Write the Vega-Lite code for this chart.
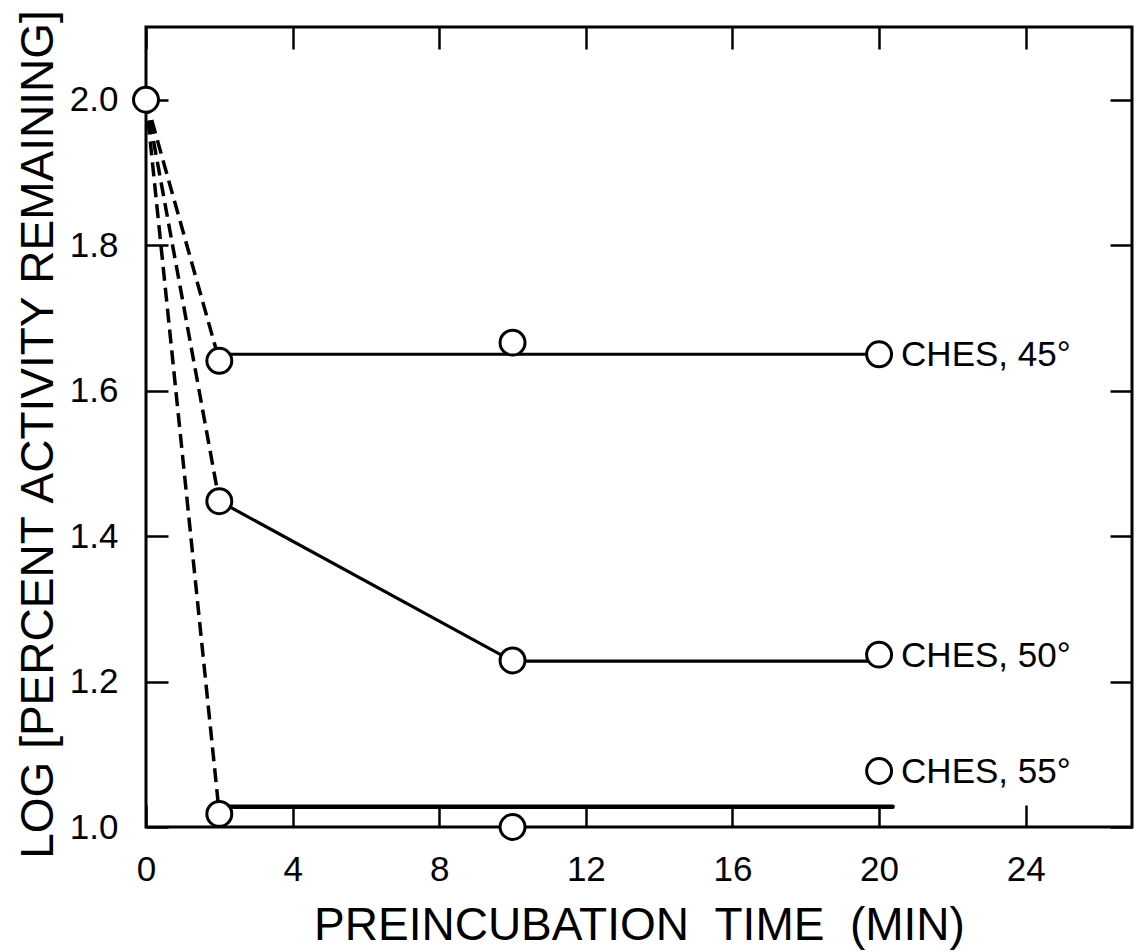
{
  "$schema": "https://vega.github.io/schema/vega-lite/v6.json",
  "width": 986,
  "height": 800,
  "autosize": {"type": "none"},
  "padding": {"left": 146, "top": 27, "right": 6, "bottom": 125},
  "background": "white",
  "config": {
    "view": {"stroke": "black", "strokeWidth": 3},
    "font": "Liberation Sans",
    "axis": {
      "domain": false,
      "grid": false,
      "tickColor": "black",
      "tickWidth": 2.5,
      "tickSize": -22,
      "labelColor": "black",
      "labelFont": "Liberation Sans",
      "labelFontSize": 35,
      "labelFlush": false,
      "labelOverlap": false,
      "titleColor": "black",
      "titleFont": "Liberation Sans",
      "titleFontWeight": "normal"
    }
  },
  "datasets": {
    "dashed": [
      {"series": "45", "t": 0, "v": 2.0},
      {"series": "45", "t": 2, "v": 1.641},
      {"series": "50", "t": 0, "v": 2.0},
      {"series": "50", "t": 2, "v": 1.448},
      {"series": "55", "t": 0, "v": 2.0},
      {"series": "55", "t": 2, "v": 1.018}
    ],
    "solid": [
      {"series": "45", "t": 2, "v": 1.65},
      {"series": "45", "t": 20, "v": 1.65},
      {"series": "50", "t": 2, "v": 1.448},
      {"series": "50", "t": 10, "v": 1.228},
      {"series": "50", "t": 20, "v": 1.228},
      {"series": "55", "t": 2, "v": 1.028},
      {"series": "55", "t": 20.37, "v": 1.028}
    ],
    "points": [
      {"series": "all", "t": 0, "v": 2.0},
      {"series": "45", "t": 2, "v": 1.641},
      {"series": "45", "t": 10, "v": 1.666},
      {"series": "45", "t": 20, "v": 1.65},
      {"series": "50", "t": 2, "v": 1.448},
      {"series": "50", "t": 10, "v": 1.229},
      {"series": "50", "t": 20, "v": 1.237},
      {"series": "55", "t": 2, "v": 1.018},
      {"series": "55", "t": 10, "v": 1.0},
      {"series": "55", "t": 20, "v": 1.077}
    ],
    "labels": [
      {"label": "CHES, 45°", "t": 20, "v": 1.65},
      {"label": "CHES, 50°", "t": 20, "v": 1.237},
      {"label": "CHES, 55°", "t": 20, "v": 1.077}
    ]
  },
  "layer": [
    {
      "data": {"name": "dashed"},
      "mark": {"type": "line", "color": "black", "strokeWidth": 3.5, "strokeDash": [14, 7]},
      "encoding": {
        "x": {"field": "t", "type": "quantitative", "scale": {"domain": [0, 26.9], "nice": false},
          "axis": {"orient": "bottom", "values": [0, 4, 8, 12, 16, 20, 24], "format": "d", "labelPadding": 47, "labelFontSize": 35, "labelFlush": false,
            "title": "PREINCUBATION\u00a0\u00a0TIME\u00a0\u00a0(MIN)", "titleFontSize": 46, "titleY": 112, "titleBaseline": "alphabetic"}},
        "y": {"field": "v", "type": "quantitative", "scale": {"domain": [1.0, 2.1], "nice": false, "zero": false},
          "axis": {"orient": "left", "values": [1.0, 1.2, 1.4, 1.6, 1.8, 2.0], "format": ".1f", "labelPadding": 50, "labelFontSize": 35, "labelFlush": false,
            "title": "LOG\u00a0[PERCENT\u00a0ACTIVITY\u00a0REMAINING]", "titleFontSize": 46, "titleAngle": -90, "titleX": -94, "titleY": 407, "titleBaseline": "alphabetic", "titleAlign": "center"}},
        "detail": {"field": "series"}
      }
    },
    {
      "data": {"name": "solid"},
      "transform": [{"filter": "datum.series != '55'"}],
      "mark": {"type": "line", "color": "black", "strokeWidth": 3.2},
      "encoding": {
        "x": {"field": "t", "type": "quantitative",
          "axis": {"orient": "top", "values": [0, 4, 8, 12, 16, 20, 24], "labels": false, "title": null}},
        "y": {"field": "v", "type": "quantitative",
          "axis": {"orient": "right", "values": [1.0, 1.2, 1.4, 1.6, 1.8, 2.0], "labels": false, "title": null}},
        "detail": {"field": "series"}
      }
    },
    {
      "data": {"name": "solid"},
      "transform": [{"filter": "datum.series == '55'"}],
      "mark": {"type": "line", "color": "black", "strokeWidth": 4.5, "strokeCap": "round"},
      "encoding": {
        "x": {"field": "t", "type": "quantitative", "axis": null},
        "y": {"field": "v", "type": "quantitative", "axis": null},
        "detail": {"field": "series"}
      }
    },
    {
      "data": {"name": "points"},
      "mark": {"type": "point", "shape": "circle", "filled": false, "fill": "white", "fillOpacity": 1, "stroke": "black", "strokeWidth": 3, "opacity": 1, "size": 620},
      "encoding": {
        "x": {"field": "t", "type": "quantitative", "axis": null},
        "y": {"field": "v", "type": "quantitative", "axis": null}
      }
    },
    {
      "data": {"name": "labels"},
      "mark": {"type": "text", "align": "left", "baseline": "middle", "dx": 22, "dy": 1, "fontSize": 35, "font": "Liberation Sans", "color": "black"},
      "encoding": {
        "x": {"field": "t", "type": "quantitative", "axis": null},
        "y": {"field": "v", "type": "quantitative", "axis": null},
        "text": {"field": "label"}
      }
    }
  ],
  "resolve": {"axis": {"x": "independent", "y": "independent"}}
}
